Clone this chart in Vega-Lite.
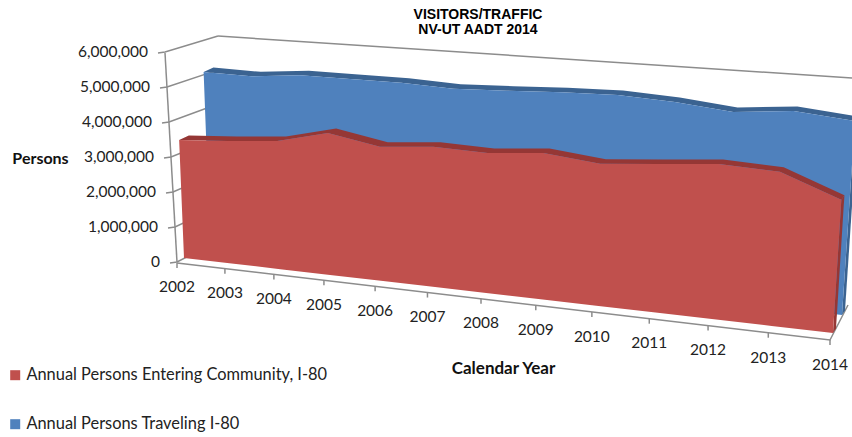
{
"$schema":"https://vega.github.io/schema/vega-lite/v6.json",
"width":852,"height":437,"padding":0,"autosize":{"type":"none"},
"background":"white",
"config":{"view":{"stroke":null}},
"title":{"text":["VISITORS/TRAFFIC","NV-UT AADT 2014"],"font":"Liberation Sans","fontSize":14,"fontWeight":"bold","color":"#000","anchor":"middle","frame":"group","dx":52,"offset":-37,"lineHeight":15},
"datasets":{
"series":[
{"year":2002,"series":"Annual Persons Entering Community, I-80","persons":3390000},
{"year":2003,"series":"Annual Persons Entering Community, I-80","persons":3480000},
{"year":2004,"series":"Annual Persons Entering Community, I-80","persons":3600000},
{"year":2005,"series":"Annual Persons Entering Community, I-80","persons":3940000},
{"year":2006,"series":"Annual Persons Entering Community, I-80","persons":3680000},
{"year":2007,"series":"Annual Persons Entering Community, I-80","persons":3800000},
{"year":2008,"series":"Annual Persons Entering Community, I-80","persons":3760000},
{"year":2009,"series":"Annual Persons Entering Community, I-80","persons":3880000},
{"year":2010,"series":"Annual Persons Entering Community, I-80","persons":3720000},
{"year":2011,"series":"Annual Persons Entering Community, I-80","persons":3840000},
{"year":2012,"series":"Annual Persons Entering Community, I-80","persons":3970000},
{"year":2013,"series":"Annual Persons Entering Community, I-80","persons":3900000},
{"year":2014,"series":"Annual Persons Entering Community, I-80","persons":3330000},
{"year":2002,"series":"Annual Persons Traveling I-80","persons":5010000},
{"year":2003,"series":"Annual Persons Traveling I-80","persons":4990000},
{"year":2004,"series":"Annual Persons Traveling I-80","persons":5130000},
{"year":2005,"series":"Annual Persons Traveling I-80","persons":5130000},
{"year":2006,"series":"Annual Persons Traveling I-80","persons":5140000},
{"year":2007,"series":"Annual Persons Traveling I-80","persons":5080000},
{"year":2008,"series":"Annual Persons Traveling I-80","persons":5140000},
{"year":2009,"series":"Annual Persons Traveling I-80","persons":5210000},
{"year":2010,"series":"Annual Persons Traveling I-80","persons":5250000},
{"year":2011,"series":"Annual Persons Traveling I-80","persons":5180000},
{"year":2012,"series":"Annual Persons Traveling I-80","persons":5030000},
{"year":2013,"series":"Annual Persons Traveling I-80","persons":5180000},
{"year":2014,"series":"Annual Persons Traveling I-80","persons":5040000}
],
"years":[{"year":2002},{"year":2003},{"year":2004},{"year":2005},{"year":2006},{"year":2007},{"year":2008},{"year":2009},{"year":2010},{"year":2011},{"year":2012},{"year":2013},{"year":2014}],
"levels":[{"persons":0},{"persons":1000000},{"persons":2000000},{"persons":3000000},{"persons":4000000},{"persons":5000000},{"persons":6000000}]
},
"data":{"name":"series"},
"transform":[
{"calculate":"0","as":"floor"},
{"fold":["persons","floor"],"as":["level","value"]},
{"calculate":"0","as":"front"},{"calculate":"1","as":"back"},
{"fold":["front","back"],"as":["face","d"]},
{"calculate":"datum.value/1000000","as":"M"},
{"calculate":"(datum.year-2002)/12","as":"u"},
{"calculate":"1.148-0.148*datum.u","as":"den"},
{"calculate":"datum.u/datum.den","as":"g"},
{"calculate":"indexof(datum.series,'Entering')>=0","as":"isRed"},
{"calculate":"(datum.isRed?184:210)+((datum.isRed?833:842)-(datum.isRed?184:210))*datum.g+datum.d*(9.5-6.5*datum.g)","as":"x0"},
{"calculate":"(datum.isRed?258:240)+75*datum.g-datum.d*4.5","as":"y0"},
{"calculate":"datum.x0+(datum.x0-420)*0.00606*datum.M","as":"sx"},
{"calculate":"datum.y0-(datum.isRed?40:38.5)/datum.den*datum.M","as":"sy"},
{"calculate":"datum.level=='persons'?datum.year:(5000-datum.year)","as":"ringFace"},
{"calculate":"datum.face=='front'?datum.year:(5000-datum.year)","as":"ringBand"},
{"calculate":"datum.level=='persons'?(datum.face=='front'?1:2):(datum.face=='front'?4:3)","as":"ringSide"}
],
"encoding":{
"x":{"field":"sx","type":"quantitative","scale":{"domain":[0,852]},"axis":{"labels":false,"ticks":false,"domain":false,"grid":false,"title":"Calendar Year","titleFont":"Lato","titleFontSize":17,"titleFontWeight":"bold","titleColor":"#111","titleX":503,"titleY":-69,"titleBaseline":"middle"}},
"y":{"field":"sy","type":"quantitative","scale":{"domain":[437,0]},"axis":{"labels":false,"ticks":false,"domain":false,"grid":false,"title":"Persons","titleFont":"Lato","titleFontSize":16,"titleFontWeight":"bold","titleColor":"#111","titleAngle":0,"titleX":40,"titleY":158,"titleAlign":"center","titleBaseline":"middle"}}
},
"layer":[
{"data":{"name":"levels"},
"transform":[
{"calculate":"datum.persons/1000000","as":"M"},
{"calculate":"170-2*datum.M","as":"tickOut"},
{"calculate":"177-2*datum.M","as":"frontX"},
{"calculate":"224-datum.M","as":"backX"},
{"fold":["tickOut","frontX","backX"],"as":["part","sx"]},
{"calculate":"datum.part=='tickOut'?263-35*datum.M:datum.part=='frontX'?262-35*datum.M:238-33.67*datum.M","as":"sy"}
],
"mark":{"type":"line","stroke":"#8c8c8c","strokeWidth":1.5,"fill":null},
"encoding":{"detail":{"field":"persons"},"order":{"field":"sx"}}},
{"data":{"values":[{"edge":"axis","at":0},{"edge":"axis","at":1}]},
"transform":[{"calculate":"177-12*datum.at","as":"sx"},{"calculate":"262-209*datum.at","as":"sy"}],
"mark":{"type":"line","stroke":"#8c8c8c","strokeWidth":1.5,"fill":null},"encoding":{"order":{"field":"at"}}},
{"data":{"values":[{"edge":"backTop","at":0},{"edge":"backTop","at":1}]},
"transform":[{"calculate":"218+634*datum.at","as":"sx"},{"calculate":"36+42*datum.at","as":"sy"}],
"mark":{"type":"line","stroke":"#8c8c8c","strokeWidth":1.5,"fill":null},"encoding":{"order":{"field":"at"}}},
{"data":{"values":[{"edge":"floorFront","at":0},{"edge":"floorFront","at":1},{"edge":"floorFront","at":2}]},
"transform":[{"calculate":"datum.at==0?177:datum.at==1?830:848","as":"sx"},{"calculate":"datum.at==0?263:datum.at==1?340:305","as":"sy"}],
"mark":{"type":"line","stroke":"#8c8c8c","strokeWidth":1.5,"fill":null},"encoding":{"order":{"field":"at"}}},
{"data":{"name":"years"},
"transform":[
{"calculate":"(datum.year-2002)/12","as":"u"},
{"calculate":"datum.u/(1.148-0.148*datum.u)","as":"g"},
{"calculate":"177+653*datum.g","as":"sx"},
{"calculate":"263+77*datum.g","as":"a"},
{"calculate":"datum.a+5","as":"b"},
{"fold":["a","b"],"as":["part","sy"]}
],
"mark":{"type":"line","stroke":"#8c8c8c","strokeWidth":1.5,"fill":null},
"encoding":{"detail":{"field":"year"},"order":{"field":"sy"}}},
{"transform":[{"filter":"!datum.isRed && datum.level=='persons'"}],
"mark":{"type":"line","fill":"#3b6391","stroke":null},
"encoding":{"order":{"field":"ringBand"}}},
{"transform":[{"filter":"!datum.isRed && datum.year==2014"}],
"mark":{"type":"line","fill":"#3b6391","stroke":null},
"encoding":{"order":{"field":"ringSide"}}},
{"transform":[{"filter":"!datum.isRed && datum.face=='front'"}],
"mark":{"type":"line","stroke":null},
"encoding":{"order":{"field":"ringFace"},"fill":{"field":"series","type":"nominal","scale":{"domain":["Annual Persons Entering Community, I-80","Annual Persons Traveling I-80"],"range":["#c0504d","#4f81bd"]},
"legend":{"orient":"none","legendX":7,"legendY":367,"title":null,"symbolType":"square","symbolSize":100,"labelFont":"Lato","labelFontSize":16.4,"labelColor":"#222","labelLimit":400,"labelOffset":3,"rowPadding":32,"symbolStrokeWidth":0}}}},
{"transform":[{"filter":"datum.isRed && datum.level=='persons'"}],
"mark":{"type":"line","fill":"#953735","stroke":null},
"encoding":{"order":{"field":"ringBand"}}},
{"transform":[{"filter":"datum.isRed && datum.year==2014"}],
"mark":{"type":"line","fill":"#953735","stroke":null},
"encoding":{"order":{"field":"ringSide"}}},
{"transform":[{"filter":"datum.isRed && datum.face=='front'"}],
"mark":{"type":"line","stroke":null},
"encoding":{"order":{"field":"ringFace"},"fill":{"field":"series","type":"nominal"}}},
{"data":{"name":"levels"},
"transform":[{"calculate":"datum.persons/1000000","as":"M"},{"calculate":"160-2*datum.M","as":"sx"},{"calculate":"262-35*datum.M","as":"sy"}],
"mark":{"type":"text","align":"right","baseline":"middle","font":"Lato","fontSize":15.5,"color":"#222"},
"encoding":{"text":{"field":"persons","type":"quantitative","format":","}}},
{"data":{"name":"years"},
"transform":[
{"calculate":"(datum.year-2002)/12","as":"u"},
{"calculate":"datum.u/(1.148-0.148*datum.u)","as":"g"},
{"calculate":"177+653*datum.g","as":"sx"},
{"calculate":"287+78*datum.g","as":"sy"}],
"mark":{"type":"text","align":"center","baseline":"middle","font":"Lato","fontSize":15.5,"color":"#222"},
"encoding":{"text":{"field":"year","type":"ordinal"}}}
]
}
